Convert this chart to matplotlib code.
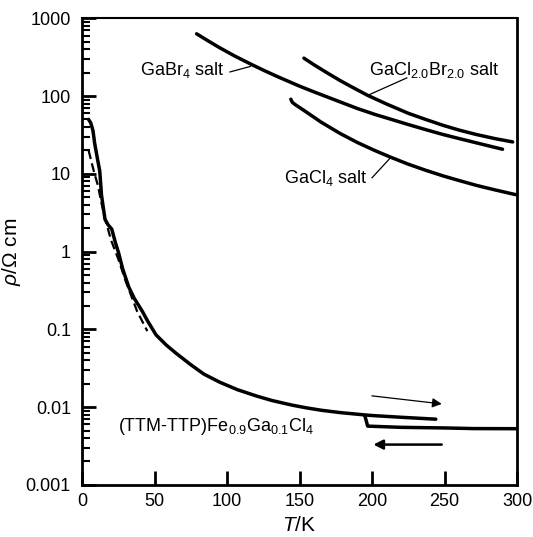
import matplotlib
matplotlib.use("Agg")
import matplotlib.pyplot as plt
from matplotlib.ticker import LogLocator, NullFormatter, FixedLocator

plt.rcParams['font.family'] = ['Liberation Sans', 'DejaVu Sans']
plt.rcParams['mathtext.fontset'] = 'custom'
plt.rcParams['mathtext.rm'] = 'Liberation Sans'
plt.rcParams['mathtext.it'] = 'Liberation Sans:italic'

# GaBr4 salt
T_br = [79, 87, 95, 105, 117, 126, 135, 150, 160, 178, 190, 202, 215, 225,
        237, 249, 260, 272, 282, 290]
rho_br = [631, 511, 417, 329, 254, 211, 177, 134, 113, 84, 69, 58, 49, 43,
          37, 32, 28.4, 25, 22.5, 20.7]

# GaCl2.0Br2.0 salt
T_clbr = [153, 160, 168, 178, 187, 197, 210, 225, 237, 249, 260, 272, 285, 297]
rho_clbr = [307, 252, 204, 158, 128, 102, 79, 60, 50, 42, 36.5, 32, 28.3, 25.7]

# GaCl4 salt
T_cl = [144, 145, 147, 155, 165, 178, 190, 202, 213, 225, 237, 249, 260,
        272, 285, 299]
rho_cl = [91, 83, 77.6, 61.7, 46, 33, 25.2, 19.9, 16.3, 13.3, 11.1, 9.4, 8.2,
          7.1, 6.2, 5.4]

# (TTM-TTP)Fe0.9Ga0.1Cl4, warming branch
T_w = [4.5, 6, 7.5, 8.7, 10.5, 12.2, 13.4, 15.8, 18, 20.5, 23, 25.2, 28, 32.2,
       36, 41.6, 45, 51, 58, 65, 75, 84, 95, 107, 120, 131, 145, 155, 165,
       178, 195, 200, 220, 244]
rho_w = [50, 45, 36, 24.5, 16, 10.8, 5.3, 2.6, 2.2, 1.94, 1.3, 0.96, 0.6, 0.35,
         0.25, 0.17, 0.13, 0.085, 0.063, 0.049, 0.0351, 0.0266, 0.0209, 0.0168,
         0.01396, 0.01216, 0.0106, 0.00977, 0.00912, 0.00851, 0.00794, 0.0078,
         0.00741, 0.0070]

# cooling branch (high T part)
T_c = [300, 270, 250, 220, 197, 195]
rho_c = [0.00528, 0.0053, 0.0054, 0.0055, 0.0057, 0.0078]

# cooling branch (low T part, dashed)
T_d = [4.5, 7, 8.7, 11, 13, 16, 20, 25, 30, 38, 45]
rho_d = [20, 13, 9.8, 7, 4.5, 2.6, 1.4, 0.8, 0.42, 0.17, 0.095]

fig = plt.figure(figsize=(5.33, 5.37), dpi=100)
ax = fig.add_axes([0.154, 0.097, 0.816, 0.869])

lw = 2.5
for T, rho in [(T_br, rho_br), (T_clbr, rho_clbr), (T_cl, rho_cl),
               (T_w, rho_w), (T_c, rho_c)]:
    ax.plot(T, rho, color='black', lw=lw, solid_joinstyle='round',
            solid_capstyle='round')
ax.plot(T_d, rho_d, color='black', lw=1.6, ls=(0, (4, 2)))

ax.set_yscale('log')
ax.set_xlim(0, 300)
ax.set_ylim(0.001, 1000)

ax.xaxis.set_major_locator(FixedLocator([0, 50, 100, 150, 200, 250, 300]))
ax.yaxis.set_minor_locator(LogLocator(base=10, subs=range(2, 10), numticks=20))
ax.yaxis.set_minor_formatter(NullFormatter())
ax.set_yticks([0.001, 0.01, 0.1, 1, 10, 100, 1000])
ax.set_yticklabels(['0.001', '0.01', '0.1', '1', '10', '100', '1000'])

ax.tick_params(which='both', direction='in', top=False, right=False, labelsize=13)
ax.tick_params(which='major', length=10, width=2)
ax.tick_params(which='minor', length=6, width=1.5)
ax.tick_params(axis='y', pad=8)
ax.tick_params(axis='x', pad=6)
for s in ax.spines.values():
    s.set_linewidth(2)
ax.spines['top'].set_linewidth(1.5)

ax.set_xlabel('$\\mathit{T}$/K', fontsize=15, labelpad=4)
ax.set_ylabel('$\\mathit{\\rho}$/$\\Omega$ cm', fontsize=15, labelpad=2)

fs = 13
ax.text(40, 218, '$\\mathregular{GaBr_4\\ salt}$', fontsize=fs, va='center')
ax.plot([102, 116], [204, 240], color='black', lw=0.9)

ax.text(198, 218, '$\\mathregular{GaCl_{2.0}Br_{2.0}\\ salt}$', fontsize=fs, va='center')
ax.plot([224, 197], [171, 102], color='black', lw=0.9)

ax.text(139, 8.9, '$\\mathregular{GaCl_4\\ salt}$', fontsize=fs, va='center')
ax.plot([200, 213], [8.9, 16.3], color='black', lw=0.9)

ax.text(25, 0.0056, '$\\mathregular{(TTM\\text{-}TTP)Fe_{0.9}Ga_{0.1}Cl_4}$', fontsize=fs, va='center')

ax.annotate('', xy=(250, 0.0109), xytext=(198, 0.0141),
            arrowprops=dict(arrowstyle='-|>', color='black', lw=0.9, mutation_scale=14))
ax.annotate('', xy=(199, 0.0033), xytext=(250, 0.0033),
            arrowprops=dict(arrowstyle='-|>', color='black', lw=1.8, mutation_scale=14))

fig.savefig('out.png', dpi=100)
